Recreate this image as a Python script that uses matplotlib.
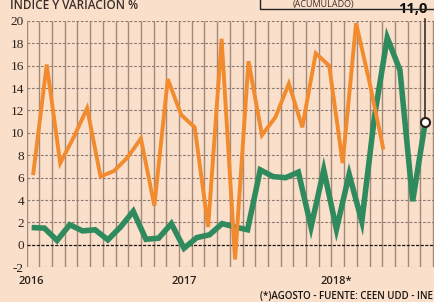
import matplotlib
matplotlib.use("Agg")
import matplotlib.pyplot as plt
import numpy as np
from matplotlib.patches import Rectangle

# ---- data ----
green_vals = [1.55, 1.5, 0.4, 1.8, 1.25, 1.35, 0.45, 1.6, 3.0, 0.5, 0.6, 1.9,
              -0.3, 0.65, 0.9, 1.9, 1.6, 1.35, 6.7, 6.1, 6.0, 6.5, 1.6, 6.7,
              1.4, 6.3, 2.1, 11.5, 18.5, 15.6, 3.9, 11.0]
orange_vals = [6.4, 16.1, 7.3, 9.6, 12.2, 6.1, 6.6, 7.8, 9.5, 3.5, 14.8, 11.6,
               10.5, 1.6, 18.4, -1.3, 16.4, 9.8, 11.4, 14.4, 10.5, 17.1, 16.0,
               7.3, 19.8, 14.5, 8.7]
year_labels = ["2016", "2017", "2018*"]
year_pos = [0, 12, 24]
yticks = list(range(-2, 21, 2))
last_label = "11,0"

BG = "#fadfcb"
ORANGE = "#f28a2e"
GREEN = "#2f8a5e"
VGRID = "#a38a78"
HGRID = "#8c7b70"
DARK = "#2a201a"

W, H = 434, 302
fig = plt.figure(figsize=(W / 100, H / 100), dpi=100, facecolor=BG)

left_px, right_px = 26.7, 434
top_px, bot_px = 20.9, 267.3
ax = fig.add_axes([left_px / W, 1 - bot_px / H, (right_px - left_px) / W,
                   (bot_px - top_px) / H])
ax.set_facecolor(BG)
for s in ax.spines.values():
    s.set_visible(False)

gx = np.arange(len(green_vals))
ax.set_xlim(-0.39, -0.39 + (right_px - left_px) / 12.7)
ax.set_ylim(-2, 20)

# grid
ax.vlines(np.arange(33) - 0.39, -2, 20, color=VGRID, lw=1.0, zorder=1)
for yv in yticks:
    if yv == 0:
        ax.axhline(yv, color="#1a1410", lw=0.9, ls=(0, (2.5, 1.2)), zorder=1.5)
    else:
        ax.axhline(yv, color=HGRID, lw=0.8, ls=(0, (2.5, 1.5)), zorder=1.5)

ax.plot(gx, green_vals, color=GREEN, lw=4.0, solid_joinstyle="miter",
        solid_capstyle="butt", zorder=3)
# marker for last value
ax.plot([gx[-1], gx[-1]], [green_vals[-1], 20.2], color=DARK, lw=1.1,
        zorder=4, clip_on=False)
ax.plot(gx[-1], green_vals[-1], "o", ms=6.5, mfc="white", mec=DARK, mew=1.5,
        zorder=5)
ax.text(gx[-1] + 0.2, 20.4, last_label, ha="right", va="bottom",
        fontsize=10.5, fontweight="bold", family="Open Sans", color="#111111")

ax.set_yticks(yticks)
ax.set_yticklabels([str(v) for v in yticks], family="Liberation Serif",
                   fontsize=9.5, color=DARK)
ax.set_xticks(year_pos)
ax.set_xticklabels(year_labels, family="Open Sans", fontweight="semibold",
                   fontsize=8, color=DARK)
ax.tick_params(axis="y", length=0, pad=2)
ax.tick_params(axis="x", length=0, pad=6)

# orange series on its own horizontal scale
ax2 = ax.twiny()
ox = np.arange(len(orange_vals))
ax2.set_xlim((left_px - 33.3) / 13.45, (right_px - 33.3) / 13.45)
ax2.set_ylim(-2, 20)
ax2.plot(ox, orange_vals, color=ORANGE, lw=2.8, solid_joinstyle="miter",
         zorder=3)
ax2.set_xticks([])
for s in ax2.spines.values():
    s.set_visible(False)

# top texts
fig.text(10 / W, 1 - 9 / H, "ÍNDICE Y VARIACIÓN %", ha="left",
         va="baseline", fontsize=8.5, family="Open Sans", fontweight="semibold",
         color="#3a2e28")
fig.patches.append(Rectangle((260 / W, 1 - 9 / H), 0.5, 0.1,
                             transform=fig.transFigure, fill=False,
                             ec="#222222", lw=1.0))
fig.text(323 / W, 1 - 7 / H, "(ACUMULADO)", ha="center", va="baseline",
         fontsize=6.5, family="Open Sans", color="#3a2e28")

fig.text(433 / W, 1 - 299 / H, "(*)AGOSTO - FUENTE: CEEN UDD - INE",
         ha="right", va="baseline", fontsize=7, family="Open Sans",
         fontweight="semibold", color="#1a1410")

fig.savefig("out.png", dpi=100, facecolor=BG)
